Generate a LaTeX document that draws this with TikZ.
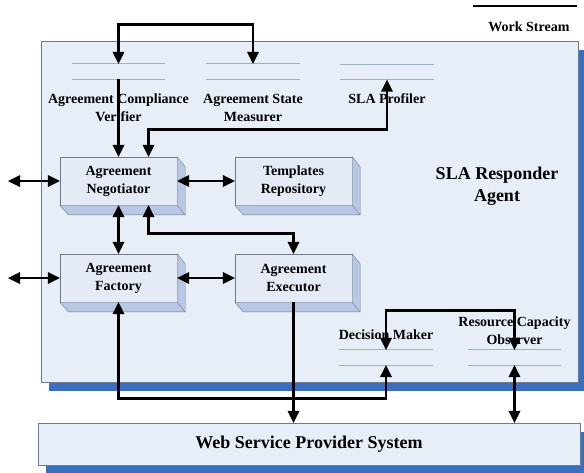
\documentclass[tikz,border=0pt]{standalone}
\usepackage{fontspec}
\setmainfont{Liberation Serif}
\usetikzlibrary{decorations.markings,shadows}

\definecolor{agentfill}{HTML}{E8EEF8}
\definecolor{facefill}{HTML}{E4EBF6}
\definecolor{sidefill}{HTML}{B8C8E4}
\definecolor{shadowblue}{HTML}{3A6FC0}
\definecolor{storeblue}{HTML}{9DB0CC}
\definecolor{frameline}{HTML}{707A88}

\begin{document}
\begin{tikzpicture}[x=1pt, y=-1pt, node distance=175pt, auto,
  comp/.style={draw=frameline, fill=facefill, minimum width=117pt, minimum height=48pt, align=center, font=\bfseries\fontsize{14}{18}\selectfont},
  store/.style={minimum width=93pt, minimum height=15pt, inner sep=0pt},
  storerule/.style={draw=storeblue, line width=1pt},
  lbl/.style={align=center, inner sep=0pt, font=\bfseries\fontsize{14}{18}\selectfont},
  flowline/.style={line width=2.8pt},
  tip/.style={flowline, shorten >=5pt, decoration={markings,mark=at position 1 with {\fill (0pt,0pt) -- (-12pt,6pt) -- (-12pt,-6pt) -- cycle;}}, postaction={decorate}},
  tips/.style={flowline, shorten >=5pt, shorten <=5pt, decoration={markings,mark=at position 0 with {\fill (0pt,0pt) -- (12pt,6pt) -- (12pt,-6pt) -- cycle;},mark=at position 1 with {\fill (0pt,0pt) -- (-12pt,6pt) -- (-12pt,-6pt) -- cycle;}}, postaction={decorate}},
  dropped/.style={drop shadow={shadow xshift=8pt, shadow yshift=-9pt, fill=shadowblue, opacity=1}}]
\useasboundingbox (0,0) rectangle (584,472);

% agent frame and provider system
\node[draw=frameline, fill=agentfill, dropped, minimum width=537pt, minimum height=341pt] (agent) at (309.5,211.5) {};
\node[draw=frameline, fill=agentfill, dropped, minimum width=542pt, minimum height=42pt, font=\bfseries\fontsize{18}{22}\selectfont] (wsps) at (309,444) {Web Service Provider System};
\node[align=center, font=\bfseries\fontsize{18}{22}\selectfont] (agentlbl) at (497,186) {SLA Responder\\Agent};

% legend
\coordinate (ws1) at (473,6);
\coordinate (ws2) at (577,6);
\draw[flowline] (ws1) -- (ws2);
\node[lbl] (wslbl) at (529,27) {Work Stream};

% components
\node[comp] (neg) at (118.5,181) {Agreement\\Negotiator};
\node[comp] (tpl) [right of = neg] {Templates\\Repository};
\node[comp] (fac) [below of = neg, node distance=97pt] {Agreement\\Factory};
\node[comp] (exe) [right of = fac] {Agreement\\Executor};
\foreach \b in {neg,tpl,fac,exe} {
  \filldraw[fill=sidefill, draw=frameline] (\b.north east) -- ++(8,10) -- ++(0,48) -- ++(-117,0) -- (\b.south west) -- (\b.south east) -- cycle;
  \draw[frameline] (\b.south east) -- ++(8,10);
}

% data stores
\node[store] (acv) at (118.5,71.5) {};
\node[store] (asm) at (253,71.5) {};
\node[store] (prof) at (387,72) {};
\node[store] (dm) at (386,357.5) {};
\node[store] (rco) at (514.5,357.5) {};
\foreach \s in {acv,asm,prof,dm,rco}
  \draw[storerule] (\s.north west) -- (\s.north east) (\s.south west) -- (\s.south east);
\node[lbl] (acvlbl) [below of = acv, node distance=36.5pt] {Agreement Compliance\\Verifier};
\node[lbl] (asmlbl) [below of = asm, node distance=36.5pt] {Agreement State\\Measurer};
\node[lbl] (proflbl) [below of = prof, node distance=27pt] {SLA Profiler};
\node[lbl] (dmlbl) [above of = dm, node distance=22.5pt] {Decision Maker};
\node[lbl] (rcolbl) [above of = rco, node distance=26.5pt] {Resource Capacity\\Observer};

% outside links
\coordinate (negin) at (8,181);
\coordinate (facin) at (8,278);

% work stream
\draw[tips] (negin) -- (neg.west);
\draw[tips] (facin) -- (fac.west);
\draw[tips] (neg.east) -- (tpl.west);
\draw[tips] (fac.east) -- (exe.west);
\draw[tips] (fac.north) -- (neg.south);
\draw[tip] (acv.south) -- (neg.north);
\draw[tips] (acv.north) -- ++(0,-39) -| (asm.north);
\draw[tips] ([xshift=30pt]neg.north) -- ++(0,-27) -| (prof.south);
\draw[tips] ([xshift=30pt]neg.south) -- ++(0,28) -| (exe.north);
\draw[tips] (fac.south) -- ++(0,96) -| (dm.south);
\draw[tip] (exe.south) -- (exe.south |- wsps.north);
\draw[tips] (dm.north) -- ++(0,-39) -| (rco.north);
\draw[tips] (rco.south) -- (rco.south |- wsps.north);
\end{tikzpicture}
\end{document}
